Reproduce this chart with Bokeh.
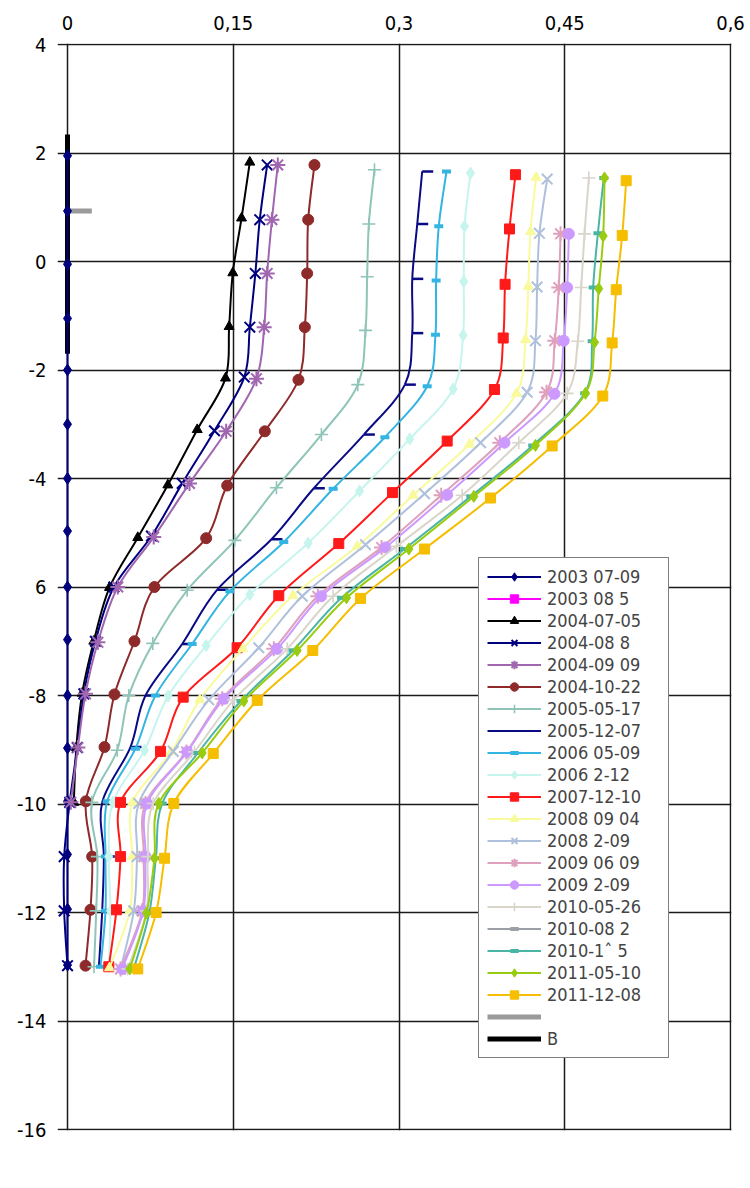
from bokeh.plotting import figure
from bokeh.models import Range1d, FixedTicker, Legend, LegendItem, Label, ColumnDataSource
from bokeh.embed import file_html
from bokeh.resources import INLINE

FONT = "DejaVu Sans Condensed"
NAN = float("nan")

# ---- depth profiles: w [m] against d [mm] --------------------------------
s01_d = [1.95, 0.93, -0.05, -1.05, -2.0, -3.0, -4.0, -4.97, -6.0, -6.97, -8.0, -8.97, -9.95, -10.93, -11.94, -12.97]
s01_w = [0.0] * 16

# no readings plotted for this date
s02_d = [NAN]
s02_w = [NAN]

s03_d = [1.83, 0.80, -0.21, -1.20, -2.15, -3.10, -4.12, -5.09, -6.01, -7.00, -7.96, -8.96, -9.97]
s03_w = [0.165, 0.1575, 0.1496, 0.1463, 0.143, 0.1174, 0.0908, 0.0636, 0.038, 0.0238, 0.0133, 0.008, 0.0057]

s04_d = [1.78, 0.77, -0.22, -1.21, -2.13, -3.12, -4.09, -5.06, -6.00, -7.00, -7.97, -8.96, -9.97, -10.97, -11.97, -12.98]
s04_w = [0.1807, 0.174, 0.170, 0.165, 0.160, 0.133, 0.1038, 0.076, 0.042, 0.0253, 0.0148, 0.0088, 0.002, -0.003, -0.003, 0.0]

s05_d = [1.78, 0.77, -0.22, -1.21, -2.16, -3.13, -4.09, -5.08, -6.00, -7.02, -7.97, -8.96, -9.97]
s05_w = [0.1903, 0.185, 0.1807, 0.178, 0.171, 0.1436, 0.1104, 0.078, 0.0455, 0.0275, 0.0163, 0.0094, 0.003]

s06_d = [1.78, 0.77, -0.22, -1.21, -2.18, -3.13, -4.13, -5.10, -6.00, -7.00, -7.98, -8.95, -9.95, -10.97, -11.95, -12.98]
s06_w = [0.2235, 0.2178, 0.2169, 0.2148, 0.209, 0.1786, 0.1445, 0.1255, 0.0787, 0.0606, 0.0425, 0.0335, 0.0166, 0.0223, 0.0208, 0.0163]

s07_d = [1.69, 0.69, -0.28, -1.27, -2.27, -3.19, -4.17, -5.14, -6.06, -7.04, -8.00, -9.01, -9.97, -10.97, -11.97, -13.0]
s07_w = [0.2778, 0.2727, 0.2712, 0.2697, 0.2627, 0.2298, 0.1891, 0.1514, 0.1083, 0.0772, 0.0555, 0.045, 0.022, 0.027, 0.026, 0.024]

s08_d = [1.66, 0.69, -0.32, -1.32, -2.27, -3.19, -4.18, -5.12, -6.05, -7.05, -8.0, -8.95, -9.97, -10.97, -11.97, -13.0]
s08_w = [0.321, 0.3165, 0.312, 0.312, 0.3053, 0.2682, 0.2229, 0.1846, 0.1355, 0.1038, 0.0706, 0.057, 0.0314, 0.0329, 0.0314, 0.0284]

s09_d = [1.66, 0.65, -0.35, -1.35, -2.30, -3.24, -4.19, -5.17, -6.08, -7.05, -8.0, -8.98, -9.95, -10.97, -11.97, -13.0]
s09_w = [0.343, 0.336, 0.3336, 0.333, 0.3255, 0.2872, 0.2404, 0.1957, 0.1469, 0.1128, 0.0796, 0.0615, 0.0359, 0.0344, 0.0344, 0.0299]

s10_d = [1.63, 0.65, -0.37, -1.36, -2.35, -3.27, -4.23, -5.19, -6.14, -7.08, -8.01, -9.01, -9.97, -10.97, -11.97, -13.0]
s10_w = [0.3647, 0.3593, 0.3586, 0.358, 0.349, 0.3098, 0.2643, 0.2178, 0.165, 0.1255, 0.0911, 0.0697, 0.041, 0.0374, 0.0389, 0.0374]

s11_d = [1.60, 0.60, -0.42, -1.41, -2.36, -3.31, -4.26, -5.20, -6.16, -7.12, -8.03, -9.03, -9.97, -10.97, -11.95, -13.0]
s11_w = [0.4054, 0.40, 0.396, 0.3943, 0.3864, 0.3436, 0.2941, 0.2455, 0.1912, 0.1535, 0.1047, 0.0842, 0.048, 0.048, 0.0443, 0.0374]

s12_d = [1.55, 0.55, -0.46, -1.44, -2.43, -3.37, -4.31, -5.25, -6.16, -7.14, -8.08, -9.04, -9.97, -10.97, -11.97, -13.02]
s12_w = [0.4241, 0.419, 0.417, 0.4145, 0.4063, 0.3638, 0.3128, 0.2622, 0.204, 0.1586, 0.1197, 0.0938, 0.059, 0.0585, 0.0564, 0.038]

s13_d = [1.52, 0.52, -0.47, -1.46, -2.41, -3.34, -4.28, -5.22, -6.17, -7.12, -8.08, -9.03, -9.99, -10.97, -11.97, -13.04]
s13_w = [0.4341, 0.4271, 0.425, 0.4235, 0.416, 0.3738, 0.3231, 0.2697, 0.2124, 0.1731, 0.1279, 0.0957, 0.0645, 0.063, 0.06, 0.048]

s14_d = [0.51, -0.48, -1.46, -2.41, -3.34, -4.31, -5.27, -6.17, -7.14, -8.06, -9.04, -9.99, -10.97, -11.97, -13.04]
s14_w = [0.4462, 0.4446, 0.441, 0.4335, 0.3912, 0.3382, 0.2842, 0.2265, 0.1867, 0.14, 0.1077, 0.0706, 0.069, 0.0676, 0.048]

s15_d = [0.51, -0.48, -1.46, -2.44, -3.34, -4.30, -5.27, -6.17, -7.14, -8.06, -9.04, -9.99, -10.97, -11.97, -13.04]
s15_w = [0.4537, 0.4522, 0.4491, 0.4407, 0.3955, 0.3436, 0.2878, 0.2296, 0.1897, 0.1415, 0.1083, 0.0721, 0.0706, 0.0685, 0.0495]

s16_d = [1.54, 0.51, -0.48, -1.47, -2.43, -3.34, -4.31, -5.25, -6.17, -7.14, -8.08, -9.04, -9.99, -10.97, -11.97, -13.04]
s16_w = [0.4718, 0.4679, 0.4649, 0.4618, 0.4522, 0.4084, 0.3572, 0.2977, 0.2404, 0.1988, 0.1505, 0.1149, 0.0776, 0.0727, 0.0715, 0.0546]

# no readings plotted for this date
s17_d = [NAN]
s17_w = [NAN]

s18_d = [1.54, 0.52, -0.48, -1.47, -2.43, -3.39, -4.33, -5.30, -6.20, -7.17, -8.10, -9.06, -9.99, -11.0, -12.01, -13.04]
s18_w = [0.4853, 0.480, 0.4757, 0.4748, 0.468, 0.421, 0.365, 0.305, 0.248, 0.204, 0.157, 0.118, 0.0857, 0.080, 0.074, 0.060]

s19_d = [1.54, 0.47, -0.50, -1.49, -2.43, -3.39, -4.33, -5.30, -6.20, -7.17, -8.10, -9.06, -9.99, -11.0, -12.01, -13.04]
s19_w = [0.486, 0.4848, 0.4808, 0.477, 0.4688, 0.4235, 0.3677, 0.3089, 0.2525, 0.2078, 0.1596, 0.1219, 0.0826, 0.0787, 0.0715, 0.0564]

s20_d = [1.49, 0.48, -0.52, -1.50, -2.48, -3.40, -4.36, -5.30, -6.21, -7.17, -8.09, -9.07, -9.99, -11.0, -12.0, -13.04]
s20_w = [0.5056, 0.502, 0.4966, 0.4929, 0.4844, 0.4386, 0.3828, 0.3231, 0.2652, 0.222, 0.1717, 0.1319, 0.0962, 0.0878, 0.0802, 0.0636]

# reference bars
bar_grey_w = [0.0, 0.022]
bar_grey_d = [0.93, 0.93]
bar_b_w = [0.0, 0.0]
bar_b_d = [2.34, -1.7]

labels = ["2003 07-09", "2003 08 5", "2004-07-05", "2004-08 8", "2004-09 09",
          "2004-10-22", "2005-05-17", "2005-12-07", "2006 05-09", "2006 2-12",
          "2007-12-10", "2008 09 04", "2008 2-09", "2009 06 09", "2009 2-09",
          "2010-05-26", "2010-08 2", "2010-1\u02c6 5", "2011-05-10", "2011-12-08"]

x_ticks = [0, 0.15, 0.3, 0.45, 0.6]
x_tick_labels = ["0", "0,15", "0,3", "0,45", "0,6"]
y_ticks = [4, 2, 0, -2, -4, -6, -8, -10, -12, -14, -16]
y_tick_labels = ["4", "2", "0", "-2", "-4", "6", "-8", "-10", "-12", "-14", "-16"]

# (w, d, colour, marker, size, marker line width)
series = [
    (s01_w, s01_d, "#00007f", "diamond", 12, 1),
    (s02_w, s02_d, "#ff00ff", "square", 10, 1),
    (s03_w, s03_d, "#000000", "triangle", 10, 1),
    (s04_w, s04_d, "#00007f", "x", 15, 2),
    (s05_w, s05_d, "#a066b0", "asterisk", 15, 2),
    (s06_w, s06_d, "#8e2a2a", "circle", 11, 1),
    (s07_w, s07_d, "#8fc5b8", "cross", 13, 1.6),
    (s08_w, s08_d, "#0a0a85", "longbar", 11, 2.5),
    (s09_w, s09_d, "#33b4e1", "dash", 9, 4),
    (s10_w, s10_d, "#c6f5ee", "diamond", 12, 1),
    (s11_w, s11_d, "#ff1a1a", "square", 10, 1),
    (s12_w, s12_d, "#f9fa9b", "triangle", 10, 1),
    (s13_w, s13_d, "#aec0db", "x", 15, 2),
    (s14_w, s14_d, "#dfa0bd", "asterisk", 15, 2),
    (s15_w, s15_d, "#cc9aff", "circle", 11, 1),
    (s16_w, s16_d, "#d9d5cb", "cross", 13, 1.6),
    (s17_w, s17_d, "#9aa0a6", "dash", 9, 4),
    (s18_w, s18_d, "#4bb5a5", "dash", 9, 4),
    (s19_w, s19_d, "#99cc11", "diamond", 12, 1),
    (s20_w, s20_d, "#f5be00", "square", 10, 1),
]


def bezier_segments(xs, ys, t=1.0 / 6.0):
    """Smooth curve through the points as cubic Bezier pieces."""
    out = dict(x0=[], y0=[], x1=[], y1=[], cx0=[], cy0=[], cx1=[], cy1=[])
    n = len(xs)
    for i in range(n - 1):
        xp, yp = (xs[i - 1], ys[i - 1]) if i > 0 else (xs[i], ys[i])
        xn, yn = (xs[i + 2], ys[i + 2]) if i + 2 < n else (xs[i + 1], ys[i + 1])
        out["x0"].append(xs[i]); out["y0"].append(ys[i])
        out["x1"].append(xs[i + 1]); out["y1"].append(ys[i + 1])
        out["cx0"].append(xs[i] + (xs[i + 1] - xp) * t)
        out["cy0"].append(ys[i] + (ys[i + 1] - yp) * t)
        out["cx1"].append(xs[i + 1] - (xn - xs[i]) * t)
        out["cy1"].append(ys[i + 1] - (yn - ys[i]) * t)
    return out


PX_PER_W = 663 / 0.6
PX_PER_D = 1085 / 20.0

p = figure(width=750, height=1188,
           x_range=Range1d(-10 / PX_PER_W, 0.6 + 1 / PX_PER_W),
           y_range=Range1d(-16 - 1 / PX_PER_D, 4 + 1 / PX_PER_D),
           x_axis_location="above",
           output_backend="svg", toolbar_location=None,
           min_border_left=57, min_border_right=19,
           min_border_top=43, min_border_bottom=58)
p.outline_line_color = None
p.background_fill_color = "white"

# grid
p.xgrid.ticker = FixedTicker(ticks=x_ticks)
p.ygrid.ticker = FixedTicker(ticks=y_ticks)
for g in (p.xgrid, p.ygrid):
    g.grid_line_color = "#1a1a1a"
    g.grid_line_width = 1.5

# axes: labels only
p.xaxis.ticker = FixedTicker(ticks=x_ticks)
p.xaxis.major_label_overrides = dict(zip(x_ticks, x_tick_labels))
p.yaxis.ticker = FixedTicker(ticks=y_ticks)
p.yaxis.major_label_overrides = dict(zip(y_ticks, y_tick_labels))
for ax in (p.xaxis, p.yaxis):
    ax.axis_line_color = None
    ax.major_tick_line_color = None
    ax.minor_tick_line_color = None
    ax.major_label_text_font = FONT
    ax.major_label_text_font_size = "20px"
    ax.major_label_text_color = "black"
p.xaxis.major_label_standoff = 8
p.yaxis.major_label_standoff = 5

# reference bars (drawn underneath the profiles)
r_grey = p.line(bar_grey_w, bar_grey_d, line_color="#9a9a9a", line_width=5)
r_b = p.line(bar_b_w, bar_b_d, line_color="#000000", line_width=5)

items = []
for (w, d, col, mk, sz, mlw), lab in zip(series, labels):
    rs = []
    if len(w) > 1:
        src = ColumnDataSource(bezier_segments(w, d))
        rs.append(p.bezier(x0="x0", y0="y0", x1="x1", y1="y1", cx0="cx0", cy0="cy0",
                           cx1="cx1", cy1="cy1", source=src, line_color=col, line_width=2))
    else:
        rs.append(p.line(w, d, line_color=col, line_width=2))
    if mk == "longbar":
        p.ray(x=w, y=d, length=11, length_units="screen", angle=0,
              line_color=col, line_width=mlw)
    else:
        fill = col if mk in ("diamond", "square", "triangle", "circle") else None
        rs.append(p.scatter(w, d, marker=mk, size=sz, line_color=col, fill_color=fill,
                            line_width=mlw))
    items.append(LegendItem(label=lab, renderers=rs))

items.append(LegendItem(label=" ", renderers=[r_grey]))
items.append(LegendItem(label="B", renderers=[r_b]))

legend = Legend(items=items, location=(421, 72), orientation="vertical",
                border_line_color="black", border_line_width=1,
                background_fill_color="white", background_fill_alpha=1.0,
                padding=8, margin=0, spacing=1, label_height=21, glyph_height=21,
                glyph_width=54, label_standoff=6, label_width=113,
                label_text_font=FONT, label_text_font_size="18px",
                label_text_baseline="middle")
p.add_layout(legend)

p.add_layout(Label(x=(640 - 67) / PX_PER_W, y=4 + 22 / PX_PER_D, text="w [m]",
                   text_align="center", text_baseline="middle",
                   text_font=FONT, text_font_size="20px"))
p.add_layout(Label(x=(12 - 67) / PX_PER_W, y=4 - (1171 - 44) / PX_PER_D, text="d [mm]",
                   text_align="left", text_baseline="middle",
                   text_font=FONT, text_font_size="20px"))

open("out.html", "w").write(file_html(p, INLINE))
